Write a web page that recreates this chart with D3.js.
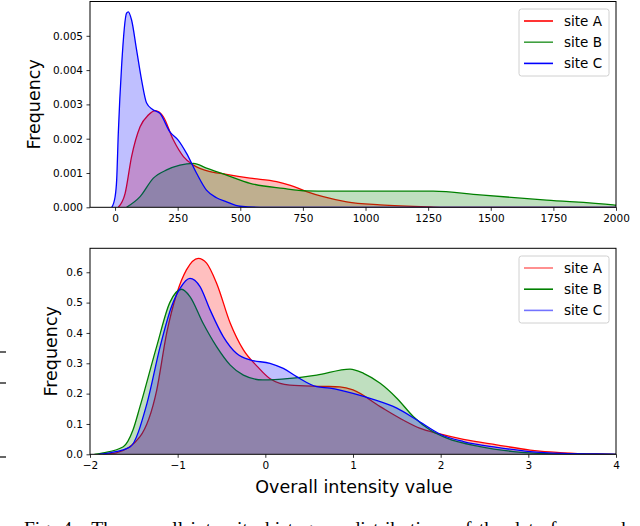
<!DOCTYPE html>
<html>
<head>
<meta charset="utf-8">
<script src="https://cdn.jsdelivr.net/npm/d3@7"></script>
<style>
  html, body { margin: 0; padding: 0; background: #fff; }
  svg { display: block; font-family: "DejaVu Sans", sans-serif; }
</style>
</head>
<body>
<svg id="chart" width="640" height="526"></svg>
<script>
// ---------- DATA ----------
const seriesNames = ["site A", "site B", "site C"];

// Top panel: raw intensity
const topA_x = [13, 40, 66, 100, 133, 160, 193, 233, 273, 313, 365, 445, 539, 645, 700, 765, 831, 925, 1058, 1257, 1320, 2000];
const topA_y = [0, 0.0004, 0.00148, 0.00235, 0.00269, 0.00282, 0.00264, 0.00196, 0.00148, 0.00123, 0.00107, 0.00096, 0.00085, 0.00075, 0.00064, 0.00046, 0.00031, 0.00016, 0.00007, 0.00001, 0, 0];
const topB_x = [46, 100, 153, 206, 259, 313, 365, 445, 539, 672, 765, 858, 1000, 1270, 1457, 1723, 1989, 2000];
const topB_y = [0, 0.00031, 0.00085, 0.00109, 0.00123, 0.00128, 0.00114, 0.00094, 0.00070, 0.00055, 0.00048, 0.00047, 0.00047, 0.00047, 0.00036, 0.00021, 0.00007, 0.00006];
const topC_x = [-13, 0, 6.5, 13, 26, 46, 53, 66, 86, 106, 126, 150, 179, 219, 252, 285, 325, 365, 405, 445, 499, 580, 2000];
const topC_y = [0, 0.0003, 0.0008, 0.00216, 0.0041, 0.00566, 0.0057, 0.00546, 0.00459, 0.00371, 0.00304, 0.00285, 0.00274, 0.0022, 0.00196, 0.00158, 0.001, 0.0005, 0.00028, 0.00016, 0.00003, 0, 0];
const topXTicks = [0, 250, 500, 750, 1000, 1250, 1500, 1750, 2000];
const topYTicks = [0, 0.001, 0.002, 0.003, 0.004, 0.005];

// Bottom panel: normalised intensity
const botA_x = [-1.85, -1.70, -1.43, -1.24, -1.125, -1.01, -0.90, -0.765, -0.67, -0.556, -0.40, -0.25, -0.09, 0.05, 0.28, 0.66, 0.85, 1.0, 1.31, 1.57, 1.76, 1.99, 2.26, 2.64, 3.02, 3.40, 3.78, 4.0];
const botA_y = [0, 0.005, 0.058, 0.21, 0.40, 0.53, 0.608, 0.646, 0.63, 0.564, 0.432, 0.344, 0.289, 0.25, 0.228, 0.224, 0.222, 0.212, 0.157, 0.113, 0.086, 0.067, 0.049, 0.031, 0.014, 0.005, 0.001, 0];
const botB_x = [-1.95, -1.85, -1.62, -1.51, -1.43, -1.24, -1.09, -0.955, -0.86, -0.71, -0.556, -0.40, -0.25, -0.03, 0.28, 0.586, 0.966, 1.12, 1.31, 1.50, 1.69, 1.88, 2.07, 2.45, 2.83, 3.21, 3.6, 4.0];
const botB_y = [0, 0.005, 0.025, 0.08, 0.157, 0.355, 0.50, 0.544, 0.52, 0.432, 0.355, 0.294, 0.261, 0.245, 0.25, 0.261, 0.281, 0.267, 0.234, 0.185, 0.124, 0.080, 0.053, 0.025, 0.009, 0.002, 0.0003, 0];
const botC_x = [-1.9, -1.77, -1.54, -1.35, -1.20, -1.07, -0.973, -0.86, -0.745, -0.63, -0.48, -0.33, -0.175, 0.053, 0.205, 0.357, 0.586, 0.737, 1.0, 1.23, 1.50, 1.73, 1.99, 2.26, 2.64, 3.02, 3.40, 3.78, 4.0];
const botC_y = [0, 0.005, 0.025, 0.168, 0.355, 0.487, 0.547, 0.58, 0.553, 0.476, 0.388, 0.333, 0.311, 0.30, 0.283, 0.256, 0.223, 0.218, 0.201, 0.181, 0.152, 0.113, 0.067, 0.042, 0.023, 0.009, 0.003, 0.001, 0];
const botXTicks = [-2, -1, 0, 1, 2, 3, 4];
const botYTicks = [0, 0.1, 0.2, 0.3, 0.4, 0.5, 0.6];

const xLabel = "Overall intensity value";
const yLabel = "Frequency";
const caption = "Fig. 4.  The overall intensity histogram distributions of the data from each";

// ---------- DRAW ----------
const svg = d3.select("#chart");
svg.append("rect").attr("width", 640).attr("height", 526).attr("fill", "#fff");

const colors = ["#ff0000", "#008000", "#0000ff"];
const zip = (xs, ys) => xs.map((x, i) => ({x, y: ys[i]}));

function panel(cfg) {
  const {top, bottom, left, right, xDomain, yDomain, xTicks, yTicks, yFmt, series, legendTop, ylabX, legendAlpha, clipId} = cfg;
  const x = d3.scaleLinear().domain(xDomain).range([left, right]);
  const y = d3.scaleLinear().domain(yDomain).range([bottom, top]);
  const g = svg.append("g");

  g.append("clipPath").attr("id", clipId)
    .append("rect").attr("x", left).attr("y", top).attr("width", right - left).attr("height", bottom - top);

  const plot = g.append("g").attr("clip-path", `url(#${clipId})`);
  const area = d3.area().x(d => x(d.x)).y0(y(0)).y1(d => y(d.y)).curve(d3.curveMonotoneX);
  const line = d3.line().x(d => x(d.x)).y(d => y(d.y)).curve(d3.curveMonotoneX);
  series.forEach((s, i) => {
    plot.append("path").datum(s).attr("d", area).attr("fill", colors[i]).attr("fill-opacity", 0.25);
    plot.append("path").datum(s).attr("d", line).attr("fill", "none").attr("stroke", colors[i]).attr("stroke-width", 1.3);
  });

  // axes
  const xa = g.append("g").attr("transform", `translate(0,${bottom})`)
    .call(d3.axisBottom(x).tickValues(xTicks).tickSize(3.5).tickPadding(3.5).tickFormat(d3.format("")));
  const ya = g.append("g").attr("transform", `translate(${left},0)`)
    .call(d3.axisLeft(y).tickValues(yTicks).tickSize(3.5).tickPadding(3.5).tickFormat(d3.format(yFmt)));
  [xa, ya].forEach(a => {
    a.select(".domain").remove();
    a.selectAll("line").attr("stroke", "#000").attr("stroke-width", 0.8);
    a.selectAll("text").attr("font-family", "DejaVu Sans").attr("font-size", "10.5px").attr("fill", "#000");
  });
  // frame
  g.append("rect").attr("x", left).attr("y", top).attr("width", right - left).attr("height", bottom - top)
    .attr("fill", "none").attr("stroke", "#000").attr("stroke-width", 1);

  // y label
  g.append("text").attr("transform", `translate(${ylabX},${(top + bottom) / 2}) rotate(-90)`)
    .attr("text-anchor", "middle").attr("font-size", "17.5px").attr("fill", "#000").text(yLabel);

  // legend
  const lx = 519, lw = 90, lh = 67;
  const lg = g.append("g");
  lg.append("rect").attr("x", lx).attr("y", legendTop).attr("width", lw).attr("height", lh)
    .attr("rx", 2.5).attr("fill", "#fff").attr("fill-opacity", 0.8).attr("stroke", "#d0d0d0").attr("stroke-width", 1);
  seriesNames.forEach((n, i) => {
    const cy = legendTop + 12 + i * 21.2;
    lg.append("line").attr("x1", lx + 5).attr("x2", lx + 34).attr("y1", cy).attr("y2", cy)
      .attr("stroke", colors[i]).attr("stroke-width", 1.6).attr("stroke-opacity", legendAlpha[i]);
    lg.append("text").attr("x", lx + 45).attr("y", cy).attr("dy", "0.36em")
      .attr("font-size", "13.5px").attr("fill", "#000").text(n);
  });
  return {x, y};
}

panel({
  top: 1.5, bottom: 207.3, left: 90, right: 616,
  xDomain: [-100, 2000], yDomain: [0, 0.006],
  xTicks: topXTicks, yTicks: topYTicks, yFmt: ".3f",
  series: [zip(topA_x, topA_y), zip(topB_x, topB_y), zip(topC_x, topC_y)],
  legendTop: 9, ylabX: 40, legendAlpha: [1, 0.75, 1], clipId: "clipTop"
});

panel({
  top: 248.3, bottom: 454.3, left: 90, right: 616,
  xDomain: [-2, 4], yDomain: [0, 0.679],
  xTicks: botXTicks, yTicks: botYTicks, yFmt: ".1f",
  series: [zip(botA_x, botA_y), zip(botB_x, botB_y), zip(botC_x, botC_y)],
  legendTop: 256, ylabX: 57, legendAlpha: [0.55, 1, 0.55], clipId: "clipBot"
});

// x label
svg.append("text").attr("x", 354).attr("y", 493).attr("text-anchor", "middle")
  .attr("font-size", "17.5px").attr("fill", "#000").text(xLabel);

// stray marks at the left edge (from neighbouring figure)
[352, 383, 457].forEach(yy => {
  svg.append("line").attr("x1", 0).attr("x2", 6).attr("y1", yy).attr("y2", yy).attr("stroke", "#000").attr("stroke-width", 1.2);
});

// caption (partially cut off at the bottom edge, as in the reference)
svg.append("text").attr("x", 24).attr("y", 535)
  .attr("font-family", "Liberation Serif, serif").attr("font-size", "19.5px")
  .attr("word-spacing", "2.5px").attr("fill", "#000").attr("xml:space", "preserve").text(caption);
</script>
</body>
</html>
